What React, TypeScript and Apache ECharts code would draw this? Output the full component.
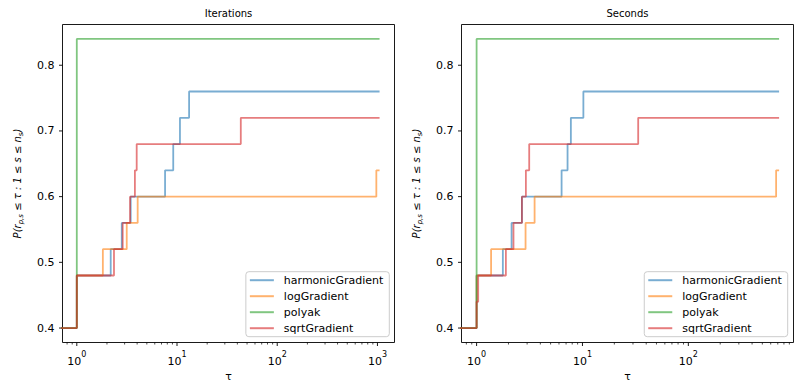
import React, { useEffect, useRef } from 'react';
import * as echarts from 'echarts';

// ---------- data ----------
const solverNames = ['harmonicGradient', 'logGradient', 'polyak', 'sqrtGradient'];
const solverColors = [
  'rgba(31,119,180,0.6)',
  'rgba(255,127,14,0.6)',
  'rgba(44,160,44,0.6)',
  'rgba(214,39,40,0.6)',
];

// Panel 1: Iterations (tau where the step occurs, profile value after the step)
const itHarmonicTau = [0.5, 1, 2.18, 2.81, 3.45, 7.6, 9.17, 10.7, 13.2, 1050];
const itHarmonicRho = [0.4, 0.48, 0.52, 0.56, 0.6, 0.64, 0.68, 0.72, 0.76, 0.76];
const itLogTau = [0.5, 1, 1.82, 3.15, 4.05, 975, 1050];
const itLogRho = [0.4, 0.48, 0.52, 0.56, 0.6, 0.64, 0.64];
const itPolyakTau = [0.5, 1, 1050];
const itPolyakRho = [0.4, 0.84, 0.84];
const itSqrtTau = [0.5, 1, 2.35, 2.87, 3.4, 3.8, 3.96, 43.3, 1050];
const itSqrtRho = [0.4, 0.48, 0.52, 0.56, 0.6, 0.64, 0.68, 0.72, 0.72];

// Panel 2: Seconds
const secHarmonicTau = [0.5, 1, 1.77, 2.14, 2.68, 6.35, 7.23, 7.77, 10.2, 720];
const secHarmonicRho = [0.4, 0.48, 0.52, 0.56, 0.6, 0.64, 0.68, 0.72, 0.76, 0.76];
const secLogTau = [0.5, 1, 1.37, 2.9, 3.53, 675, 720];
const secLogRho = [0.4, 0.48, 0.52, 0.56, 0.6, 0.64, 0.64];
const secPolyakTau = [0.5, 1, 720];
const secPolyakRho = [0.4, 0.84, 0.84];
const secSqrtTau = [0.5, 1, 1.035, 1.89, 2.23, 2.68, 2.92, 3.14, 33.6, 720];
const secSqrtRho = [0.4, 0.44, 0.48, 0.52, 0.56, 0.6, 0.64, 0.68, 0.72, 0.72];

const panelTitles = ['Iterations', 'Seconds'];
const xMins = [0.72, 0.72];
const xMaxs = [1480, 985];
const yMin = 0.378;
const yMax = 0.862;
const xMajorTicks = [1, 10, 100, 1000];
const xMinorTicks = [
  0.8, 0.9,
  2, 3, 4, 5, 6, 7, 8, 9,
  20, 30, 40, 50, 60, 70, 80, 90,
  200, 300, 400, 500, 600, 700, 800, 900,
];
const yTicks = [0.4, 0.5, 0.6, 0.7, 0.8];

const panelData = [
  [
    [itHarmonicTau, itHarmonicRho],
    [itLogTau, itLogRho],
    [itPolyakTau, itPolyakRho],
    [itSqrtTau, itSqrtRho],
  ],
  [
    [secHarmonicTau, secHarmonicRho],
    [secLogTau, secLogRho],
    [secPolyakTau, secPolyakRho],
    [secSqrtTau, secSqrtRho],
  ],
];

// ---------- layout ----------
const FONT = 'DejaVu Sans';
const GRID_TOP = 24.5;
const GRID_H = 318;
const GRID_W = 332;
const GRID_LEFTS = [62.5, 461.5];
const LEGEND_RIGHTS = [410.7, 12.3];

export default function App() {
  const ref = useRef<HTMLDivElement>(null);

  useEffect(() => {
    if (!ref.current) return;
    const chart = echarts.init(ref.current, undefined, { renderer: 'svg' });

    const grids = GRID_LEFTS.map((left) => ({
      left,
      top: GRID_TOP,
      width: GRID_W,
      height: GRID_H,
      show: true,
      borderColor: '#000',
      borderWidth: 0.9,
      backgroundColor: 'transparent',
    }));

    const xAxes = [0, 1].map((g) => ({
      type: 'log',
      logBase: 10,
      gridIndex: g,
      min: xMins[g],
      max: xMaxs[g],
      splitLine: { show: false },
      axisLine: { show: false },
      axisTick: { show: false },
      minorTick: { show: false },
      axisLabel: {
        margin: 8,
        color: '#000',
        fontFamily: FONT,
        formatter: (v: number) => {
          const e = Math.log10(v);
          if (Math.abs(e - Math.round(e)) > 1e-6) return '';
          return `{b|10}{s|${Math.round(e)}}`;
        },
        rich: {
          b: { fontSize: 11, fontFamily: FONT, color: '#000', lineHeight: 16, verticalAlign: 'bottom' },
          s: { fontSize: 8, fontFamily: FONT, color: '#000', lineHeight: 4, verticalAlign: 'top' },
        },
      },
      name: 'τ',
      nameLocation: 'middle',
      nameGap: 28,
      nameTextStyle: { fontSize: 11, fontFamily: FONT, color: '#000' },
    }));

    const yAxes = [0, 1].map((g) => ({
      type: 'value',
      gridIndex: g,
      min: yMin,
      max: yMax,
      splitLine: { show: false },
      axisLine: { show: false },
      axisTick: { show: false },
      axisLabel: {
        margin: 8,
        fontSize: 11,
        color: '#000',
        fontFamily: FONT,
        formatter: (v: number) =>
          Math.abs(v * 10 - Math.round(v * 10)) < 1e-6 ? v.toFixed(1) : '',
      },
      name: '{m|P(r}{sub|p,s}{m| ≤ τ : 1 ≤ s ≤ n}{sub|s}{m|)}',
      nameLocation: 'middle',
      nameRotate: 90,
      nameGap: 38,
      nameTextStyle: {
        rich: {
          m: { fontSize: 10, fontFamily: FONT, fontStyle: 'italic', color: '#000', lineHeight: 14, verticalAlign: 'middle' },
          sub: { fontSize: 7, fontFamily: FONT, fontStyle: 'italic', color: '#000', lineHeight: 8, verticalAlign: 'bottom' },
        },
      },
    }));

    const series: any[] = [];
    [0, 1].forEach((g) => {
      panelData[g].forEach(([tau, rho], i) => {
        series.push({
          type: 'line',
          name: solverNames[i],
          xAxisIndex: g,
          yAxisIndex: g,
          step: 'end',
          symbol: 'none',
          showSymbol: false,
          clip: true,
          silent: true,
          data: tau.map((t, k) => [t, rho[k]]),
          lineStyle: { color: solverColors[i], width: 1.8 },
          itemStyle: { color: solverColors[i] },
        });
      });
      // tick marks drawn through the axes' scales
      const tickData: number[][] = [];
      xMajorTicks.forEach((t) => {
        if (t >= xMins[g] && t <= xMaxs[g]) tickData.push([t, 0.5, 0]);
      });
      xMinorTicks.forEach((t) => {
        if (t >= xMins[g] && t <= xMaxs[g]) tickData.push([t, 0.5, 1]);
      });
      yTicks.forEach((t) => tickData.push([1, t, 2]));
      series.push({
        type: 'custom',
        xAxisIndex: g,
        yAxisIndex: g,
        silent: true,
        clip: false,
        data: tickData,
        renderItem: (params: any, api: any) => {
          const cs = params.coordSys;
          const kind = api.value(2);
          if (kind === 2) {
            const y = api.coord([1, api.value(1)])[1];
            return {
              type: 'line',
              shape: { x1: cs.x - 3.5, y1: y, x2: cs.x, y2: y },
              style: { stroke: '#000', lineWidth: 0.9 },
            };
          }
          const x = api.coord([api.value(0), 0.5])[0];
          const bottom = cs.y + cs.height;
          const len = kind === 0 ? 3.5 : 2;
          return {
            type: 'line',
            shape: { x1: x, y1: bottom, x2: x, y2: bottom + len },
            style: { stroke: '#000', lineWidth: kind === 0 ? 0.9 : 0.7 },
          };
        },
      });
    });

    const legends = [0, 1].map((g) => ({
      data: solverNames,
      orient: 'vertical',
      right: LEGEND_RIGHTS[g],
      bottom: 54.3,
      icon: 'rect',
      itemWidth: 24,
      itemHeight: 2,
      itemGap: 5,
      padding: [3, 6, 3, 4],
      backgroundColor: 'rgba(255,255,255,0.8)',
      borderColor: '#cccccc',
      borderWidth: 1,
      borderRadius: 3,
      selectedMode: false,
      itemStyle: { borderWidth: 0 },
      textStyle: { fontSize: 11, fontFamily: FONT, color: '#000', padding: [0, 0, 0, 5] },
    }));

    const graphics = [0, 1].map((g) => ({
      type: 'text',
      x: GRID_LEFTS[g] + GRID_W / 2,
      y: 13,
      style: {
        text: panelTitles[g],
        fontSize: 10,
        fontFamily: FONT,
        fill: '#000',
        align: 'center',
        verticalAlign: 'middle',
      },
    }));

    chart.setOption({
      animation: false,
      backgroundColor: '#fff',
      grid: grids,
      xAxis: xAxes,
      yAxis: yAxes,
      legend: legends,
      graphic: graphics,
      series,
    });

    return () => chart.dispose();
  }, []);

  return (
    <div
      ref={ref}
      style={{ position: 'fixed', left: 0, top: 0, width: 800, height: 391 }}
    />
  );
}
